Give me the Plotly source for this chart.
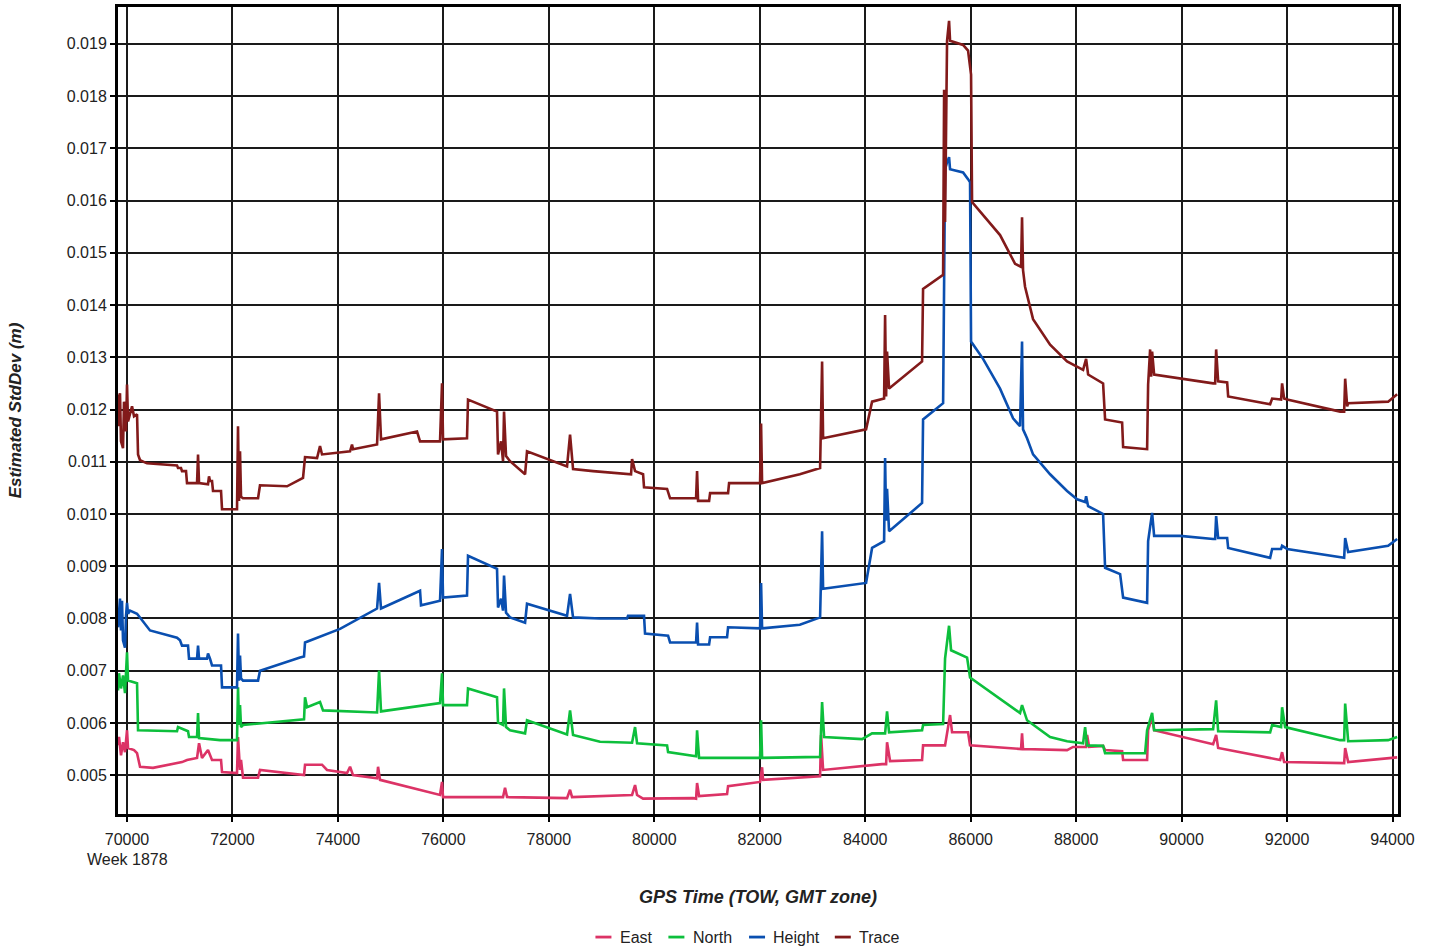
import plotly.graph_objects as go

# GPS time of week (s) and estimated standard deviation (m) per component

east_t = [69830, 69848, 69886, 69924, 69962, 70000, 70019, 70133, 70190, 70247,
          70493, 71043, 71138, 71328, 71366, 71422, 71536, 71612, 71783, 71802,
          72086, 72105, 72143, 72162, 72200, 72485, 72522, 73281, 73357, 73376,
          73698, 73793, 74173, 74230, 74286, 74742, 74761, 74798, 75936, 75974,
          75993, 77131, 77169, 77207, 78345, 78402, 78440, 79578, 79635, 79673,
          79787, 80735, 80792, 80811, 80849, 81380, 81399, 82006, 82044, 82062,
          83144, 83163, 83201, 84320, 84396, 84414, 84471, 85078, 85097, 85514,
          85552, 85609, 85647, 85950, 85988, 86804, 86955, 86974, 86993, 87828,
          87942, 88189, 88208, 88246, 88511, 88549, 88872, 88891, 89346, 89365,
          89441, 89479, 90598, 90655, 90693, 91869, 91906, 91944, 93007, 93083,
          93102, 93159, 94088]
east_v = [0.00557, 0.00573, 0.00538, 0.00563, 0.00544, 0.00586, 0.00552, 0.00548, 0.00542, 0.00516,
          0.00514, 0.00525, 0.00529, 0.00533, 0.00561, 0.00533, 0.00548, 0.00529, 0.00529, 0.00506,
          0.00504, 0.00573, 0.00510, 0.00529, 0.00495, 0.00495, 0.00510, 0.00500, 0.00500, 0.00520,
          0.00520, 0.00510, 0.00504, 0.00516, 0.00500, 0.00494, 0.00516, 0.00491, 0.00462, 0.00487,
          0.00458, 0.00458, 0.00476, 0.00458, 0.00456, 0.00472, 0.00458, 0.00462, 0.00481, 0.00462,
          0.00455, 0.00456, 0.00455, 0.00485, 0.00460, 0.00464, 0.00479, 0.00487, 0.00515, 0.00491,
          0.00498, 0.00577, 0.00510, 0.00521, 0.00521, 0.00563, 0.00527, 0.00529, 0.00557, 0.00557,
          0.00582, 0.00615, 0.00582, 0.00582, 0.00557, 0.00552, 0.00550, 0.00580, 0.00550, 0.00548,
          0.00554, 0.00554, 0.00577, 0.00554, 0.00556, 0.00548, 0.00546, 0.00529, 0.00529, 0.00586,
          0.00611, 0.00586, 0.00559, 0.00577, 0.00552, 0.00529, 0.00544, 0.00525, 0.00523, 0.00523,
          0.00552, 0.00525, 0.00534]

north_t = [69830, 69848, 69886, 69924, 69962, 70000, 70019, 70190, 70209, 70948,
           70967, 71157, 71176, 71328, 71347, 71366, 71764, 72086, 72105, 72124,
           72143, 72162, 72200, 73281, 73357, 73376, 73414, 73660, 73717, 74742,
           74780, 74817, 75936, 75974, 75993, 76448, 76467, 77017, 77036, 77131,
           77150, 77188, 77264, 77549, 77586, 78345, 78402, 78459, 78971, 79578,
           79635, 79673, 80242, 80261, 80735, 80792, 80811, 80849, 82006, 82025,
           82044, 83144, 83182, 83220, 83941, 84130, 84377, 84414, 84452, 85078,
           85097, 85477, 85514, 85590, 85628, 85932, 85988, 86557, 86936, 86974,
           87069, 87506, 87828, 88132, 88170, 88208, 88511, 88549, 89308, 89346,
           89441, 89479, 90598, 90655, 90693, 91679, 91717, 91887, 91906, 91963,
           93007, 93083, 93102, 93159, 93917, 94088]
north_v = [0.00662, 0.00695, 0.00666, 0.00691, 0.00657, 0.00735, 0.00681, 0.00676, 0.00586, 0.00584,
           0.00592, 0.00584, 0.00573, 0.00573, 0.00619, 0.00571, 0.00567, 0.00567, 0.00668, 0.00596,
           0.00634, 0.00592, 0.00596, 0.00605, 0.00607, 0.00649, 0.00630, 0.00640, 0.00624, 0.00620,
           0.00700, 0.00622, 0.00638, 0.00695, 0.00634, 0.00634, 0.00666, 0.00649, 0.00601, 0.00596,
           0.00666, 0.00592, 0.00586, 0.00580, 0.00605, 0.00578, 0.00624, 0.00577, 0.00564, 0.00562,
           0.00592, 0.00561, 0.00557, 0.00544, 0.00536, 0.00536, 0.00586, 0.00533, 0.00533, 0.00605,
           0.00533, 0.00535, 0.00640, 0.00573, 0.00569, 0.00580, 0.00580, 0.00622, 0.00582, 0.00586,
           0.00596, 0.00598, 0.00723, 0.00786, 0.00739, 0.00725, 0.00687, 0.00647, 0.00619, 0.00634,
           0.00605, 0.00573, 0.00565, 0.00561, 0.00592, 0.00557, 0.00556, 0.00542, 0.00542, 0.00586,
           0.00619, 0.00586, 0.00588, 0.00643, 0.00584, 0.00582, 0.00596, 0.00592, 0.00630, 0.00592,
           0.00567, 0.00567, 0.00637, 0.00565, 0.00567, 0.00573]

height_t = [69830, 69848, 69867, 69886, 69905, 69924, 69962, 69981, 70000, 70019,
            70057, 70190, 70436, 70948, 71005, 71043, 71157, 71176, 71328, 71347,
            71366, 71517, 71536, 71574, 71612, 71783, 71802, 72086, 72105, 72124,
            72143, 72162, 72200, 72485, 72522, 73281, 73357, 73376, 74040, 74742,
            74780, 74817, 75557, 75576, 75936, 75974, 75993, 76448, 76467, 77017,
            77036, 77093, 77131, 77150, 77188, 77264, 77549, 77586, 78345, 78402,
            78459, 78971, 79483, 79502, 79805, 79824, 80261, 80299, 80792, 80811,
            80830, 81039, 81058, 81380, 81399, 82006, 82025, 82044, 82760, 83144,
            83182, 83201, 84016, 84130, 84358, 84377, 84396, 84414, 84452, 85078,
            85097, 85477, 85514, 85552, 85590, 85609, 85856, 85950, 85988, 86007,
            86235, 86557, 86804, 86936, 86974, 86993, 87069, 87183, 87506, 87828,
            88018, 88170, 88189, 88227, 88511, 88549, 88834, 88891, 89346, 89365,
            89441, 89479, 89972, 90598, 90636, 90655, 90693, 90864, 90883, 91679,
            91717, 91887, 91906, 92002, 93007, 93083, 93102, 93159, 93917, 94088]
height_v = [0.00783, 0.00815, 0.00838, 0.00777, 0.00834, 0.00758, 0.00744, 0.00805, 0.00830, 0.00809,
            0.00815, 0.00809, 0.00777, 0.00763, 0.00758, 0.00748, 0.00748, 0.00723, 0.00723, 0.00748,
            0.00723, 0.00723, 0.00733, 0.00723, 0.00710, 0.00710, 0.00668, 0.00668, 0.00771, 0.00681,
            0.00729, 0.00685, 0.00681, 0.00681, 0.00700, 0.00725, 0.00727, 0.00754, 0.00780, 0.00819,
            0.00868, 0.00819, 0.00853, 0.00825, 0.00834, 0.00933, 0.00840, 0.00844, 0.00920, 0.00895,
            0.00821, 0.00838, 0.00815, 0.00882, 0.00811, 0.00802, 0.00792, 0.00828, 0.00805, 0.00847,
            0.00802, 0.00800, 0.00800, 0.00805, 0.00805, 0.00771, 0.00767, 0.00754, 0.00754, 0.00792,
            0.00750, 0.00750, 0.00764, 0.00764, 0.00783, 0.00781, 0.00868, 0.00781, 0.00788, 0.00802,
            0.00967, 0.00857, 0.00868, 0.00935, 0.00948, 0.01107, 0.00987, 0.01048, 0.00967, 0.01021,
            0.01181, 0.01212, 0.01660, 0.01673, 0.01683, 0.01660, 0.01654, 0.01641, 0.01635, 0.01330,
            0.01297, 0.01240, 0.01183, 0.01168, 0.01330, 0.01162, 0.01145, 0.01114, 0.01076, 0.01044,
            0.01028, 0.01023, 0.01034, 0.01015, 0.01000, 0.00897, 0.00885, 0.00840, 0.00830, 0.00948,
            0.01002, 0.00958, 0.00958, 0.00952, 0.00952, 0.00996, 0.00954, 0.00954, 0.00935, 0.00916,
            0.00933, 0.00933, 0.00939, 0.00933, 0.00916, 0.00916, 0.00954, 0.00927, 0.00939, 0.00952]

trace_t = [69830, 69848, 69867, 69886, 69924, 69943, 69981, 70000, 70019, 70057,
           70095, 70133, 70190, 70209, 70247, 70379, 70948, 70967, 71024, 71043,
           71119, 71138, 71328, 71347, 71366, 71536, 71555, 71574, 71612, 71631,
           71783, 71802, 72086, 72105, 72124, 72143, 72162, 72200, 72485, 72522,
           73035, 73338, 73376, 73604, 73660, 73698, 74230, 74267, 74286, 74742,
           74780, 74817, 75500, 75557, 75936, 75974, 75993, 76448, 76467, 77017,
           77036, 77093, 77131, 77150, 77188, 77264, 77549, 77586, 78345, 78402,
           78459, 78838, 79483, 79559, 79578, 79635, 79787, 79805, 80242, 80299,
           80792, 80811, 80830, 81039, 81058, 81399, 81418, 82006, 82025, 82044,
           82760, 83144, 83182, 83201, 84016, 84130, 84358, 84377, 84396, 84414,
           84452, 85078, 85097, 85477, 85496, 85514, 85552, 85590, 85609, 85856,
           85950, 86007, 86026, 86235, 86557, 86842, 86955, 86974, 86993, 87031,
           87183, 87506, 87828, 88132, 88189, 88227, 88511, 88549, 88872, 88891,
           89346, 89365, 89403, 89422, 89441, 89479, 89972, 90598, 90636, 90655,
           90693, 90864, 90883, 91679, 91717, 91887, 91906, 91944, 92002, 93007,
           93083, 93102, 93140, 93159, 93917, 94088]
trace_v = [0.01168, 0.01225, 0.01231, 0.01139, 0.01126, 0.01215, 0.01158, 0.01248, 0.01177, 0.01193,
           0.01206, 0.01187, 0.01191, 0.01114, 0.01103, 0.01097, 0.01093, 0.01088, 0.01088, 0.01082,
           0.01082, 0.01059, 0.01059, 0.01114, 0.01059, 0.01057, 0.01072, 0.01063, 0.01063, 0.01044,
           0.01044, 0.01009, 0.01009, 0.01168, 0.01025, 0.01120, 0.01033, 0.01030, 0.01030, 0.01055,
           0.01053, 0.01069, 0.01109, 0.01107, 0.01130, 0.01114, 0.01120, 0.01133, 0.01124, 0.01133,
           0.01231, 0.01143, 0.01158, 0.01139, 0.01139, 0.01250, 0.01143, 0.01145, 0.01219, 0.01196,
           0.01114, 0.01139, 0.01101, 0.01196, 0.01111, 0.01101, 0.01076, 0.01120, 0.01091, 0.01152,
           0.01086, 0.01082, 0.01076, 0.01076, 0.01105, 0.01082, 0.01076, 0.01051, 0.01048, 0.01030,
           0.01030, 0.01082, 0.01025, 0.01025, 0.01040, 0.01040, 0.01059, 0.01059, 0.01173, 0.01059,
           0.01076, 0.01088, 0.01292, 0.01145, 0.01162, 0.01215, 0.01221, 0.01381, 0.01225, 0.01311,
           0.01240, 0.01292, 0.01431, 0.01458, 0.01812, 0.01559, 0.01906, 0.01944, 0.01906, 0.01898,
           0.01887, 0.01841, 0.01597, 0.01572, 0.01534, 0.01479, 0.01473, 0.01568, 0.01467, 0.01435,
           0.01373, 0.01324, 0.01292, 0.01276, 0.01297, 0.01267, 0.01250, 0.01181, 0.01175, 0.01128,
           0.01124, 0.01248, 0.01315, 0.01263, 0.01311, 0.01267, 0.01259, 0.01250, 0.01250, 0.01315,
           0.01254, 0.01252, 0.01225, 0.01210, 0.01221, 0.01219, 0.01250, 0.01221, 0.01219, 0.01196,
           0.01196, 0.01259, 0.01206, 0.01212, 0.01215, 0.01229]

series_names = ["East", "North", "Height", "Trace"]
series_colors = ["#DC3366", "#0DBF3C", "#0A4FB0", "#821A1A"]
series_data = [(east_t, east_v), (north_t, north_v), (height_t, height_v), (trace_t, trace_v)]

x_ticks = list(range(70000, 94001, 2000))
y_ticks = [0.005 + 0.001 * i for i in range(15)]

FONT = "Liberation Sans, Arial, sans-serif"

fig = go.Figure()
for name, color, (t, v) in zip(series_names, series_colors, series_data):
    fig.add_trace(go.Scatter(x=t, y=v, mode="lines", name=name,
                             line=dict(color=color, width=2.6),
                             showlegend=False))

# legend drawn below the x-axis title: short colour bar + label per series
legend_x = [0.373, 0.430, 0.493, 0.560]
for name, color, lx in zip(series_names, series_colors, legend_x):
    fig.add_shape(type="line", xref="paper", yref="paper",
                  x0=lx, x1=lx + 0.0125, y0=-0.1525, y1=-0.1525,
                  line=dict(color=color, width=2.8))
    fig.add_annotation(text=name, xref="paper", yref="paper",
                       x=lx + 0.0175, y=-0.1525, xanchor="left", yanchor="middle",
                       showarrow=False, font=dict(family=FONT, size=16, color="#222"))

fig.add_annotation(text="Week 1878", xref="x", yref="paper", x=70000, y=-0.057,
                   xanchor="center", yanchor="middle", showarrow=False,
                   font=dict(family=FONT, size=16, color="#222"))

fig.update_layout(
    width=1432, height=951,
    margin=dict(l=118, r=34, t=4, b=137),
    paper_bgcolor="white", plot_bgcolor="white",
    font=dict(family=FONT, size=16, color="#222"),
    xaxis=dict(
        range=[69829, 94104], tickmode="array", tickvals=x_ticks,
        ticktext=[str(v) for v in x_ticks],
        showgrid=True, gridcolor="#1a1a1a", gridwidth=1.6,
        showline=True, linecolor="black", linewidth=3, mirror=True,
        ticks="outside", ticklen=5, tickcolor="black", tickwidth=1.5,
        ticklabelstandoff=4, zeroline=False,
        title=dict(text="<b><i>GPS Time (TOW, GMT zone)</i></b>", standoff=44,
                   font=dict(family=FONT, size=18, color="#222")),
    ),
    yaxis=dict(
        range=[0.004256, 0.019706], tickmode="array", tickvals=y_ticks,
        ticktext=["%.3f" % v for v in y_ticks],
        showgrid=True, gridcolor="#1a1a1a", gridwidth=1.6,
        showline=True, linecolor="black", linewidth=3, mirror=True,
        ticks="outside", ticklen=5, tickcolor="black", tickwidth=1.5,
        zeroline=False,
        title=dict(text="<b><i>Estimated StdDev (m)</i></b>", standoff=41,
                   font=dict(family=FONT, size=17, color="#222")),
    ),
)

fig.write_html("out.html")
